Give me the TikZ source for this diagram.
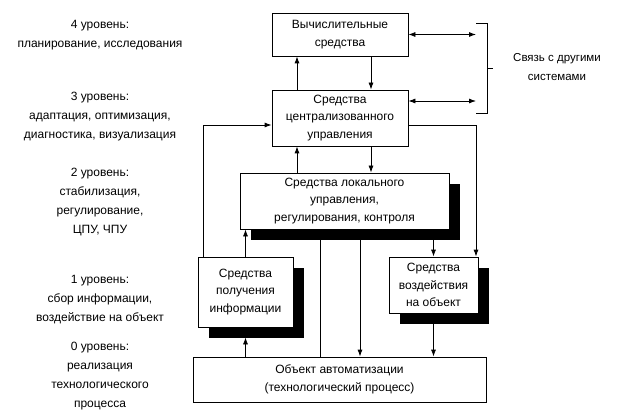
\documentclass[tikz,border=0pt]{standalone}
\usepackage{fontspec}
\setmainfont{Liberation Sans}
\usetikzlibrary{arrows.meta,positioning,shadows}

\begin{document}
\begin{tikzpicture}[x=1pt, y=-1pt,
    block/.style={draw, fill=white, line width=0.8pt, align=center, inner sep=2pt, font=\fontsize{12}{17.5}\selectfont},
    shadowblock/.style={block, drop shadow={shadow xshift=11pt, shadow yshift=-11pt, fill=black, opacity=1}},
    level/.style={align=center, font=\fontsize{12}{19}\selectfont},
    arrow/.style={line width=0.8pt, -{Latex[length=7pt,width=5pt]}},
    twoway/.style={line width=0.8pt, {Latex[length=7pt,width=5pt]}-{Latex[length=7pt,width=5pt]}},
    link/.style={line width=0.8pt}]

        \useasboundingbox (0,0) rectangle (625,420);

        % blocks
        \node [block, minimum width=136pt, minimum height=43pt] (comp) at (340,34.5) {Вычислительные\\средства};
        \node [block, minimum width=136pt, minimum height=56pt] (central) at (340,118) {Средства\\централизованного\\управления};
        \node [shadowblock, minimum width=209pt, minimum height=56pt] (local) at (344.5,201) {Средства локального\\управления,\\регулирования, контроля};
        \node [shadowblock, minimum width=95pt, minimum height=70pt] (sensor) at (245.5,292) {Средства\\получения\\информации};
        \node [shadowblock, minimum width=89pt, minimum height=56pt] (actor) at (433.5,285) {Средства\\воздействия\\на объект};
        \node [block, minimum width=293pt, minimum height=45pt] (plant) at (339.5,379.5) {Объект автоматизации\\(технологический процесс)};

        % levels
        \node [level] (lev4) at (100,35.5) {4 уровень:\\планирование, исследования};
        \node [level] (lev3) at (100,117) {3 уровень:\\адаптация, оптимизация,\\диагностика, визуализация};
        \node [level] (lev2) at (100,202.5) {2 уровень:\\стабилизация,\\регулирование,\\ЦПУ, ЧПУ};
        \node [level] (lev1) at (100,300) {1 уровень:\\сбор информации,\\воздействие на объект};
        \node [level] (lev0) at (100,376.5) {0 уровень:\\реализация\\технологического\\процесса};

        % other systems
        \coordinate (ext1) at (476,34.5);
        \coordinate (ext2) at (476,101);
        \draw [link] (476,23) -| (487,113) -- (476,113);
        \draw [link] (487,68) -- (493,68);
        \node [align=center, font=\fontsize{11.5}{19}\selectfont] (other) at (557,67) {Связь с другими\\системами};

        % arrows
        \draw [arrow] ([xshift=31pt]comp.south) -- ([xshift=31pt]central.north);
        \draw [arrow] ([xshift=-43pt]central.north) -- ([xshift=-43pt]comp.south);
        \draw [twoway] (comp.east) -- (ext1);
        \draw [twoway] ([yshift=17pt]central.east) -- (ext2);

        \draw [arrow] ([xshift=31pt]central.south) -- ([xshift=31pt]central.south |- local.north);
        \draw [arrow] ([xshift=-43pt]central.south |- local.north) -- ([xshift=-43pt]central.south);
        \draw [arrow] ([xshift=-42.5pt]sensor.north) |- ([yshift=-7pt]central.west);
        \draw [arrow] ([yshift=-7pt]central.east) -| ([xshift=42.5pt]actor.north);

        \draw [arrow] (sensor.north) -- (sensor.north |- local.south);
        \draw [link] ([xshift=-24.5pt]local.south) -- ([xshift=-24.5pt]local.south |- plant.north);
        \draw [arrow] ([xshift=15.5pt]local.south) -- ([xshift=15.5pt]local.south |- plant.north);
        \draw [arrow] (actor.north |- local.south) -- (actor.north);

        \draw [arrow] (actor.south) -- (actor.south |- plant.north);
        \draw [arrow] (sensor.south |- plant.north) -- ([yshift=-10pt]sensor.south);

    \end{tikzpicture}
\end{document}
